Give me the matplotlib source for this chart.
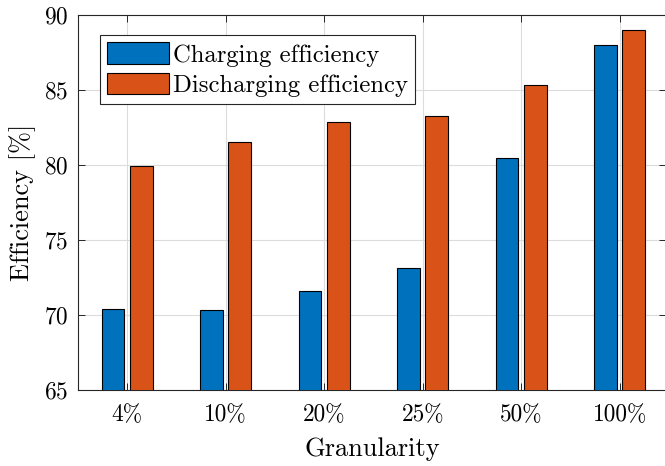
import matplotlib
matplotlib.use("Agg")
import matplotlib.pyplot as plt
import numpy as np

plt.rcParams["font.family"] = ["cmr10", "DejaVu Serif"]
plt.rcParams["axes.formatter.use_mathtext"] = True

granularity = ["4%", "10%", "20%", "25%", "50%", "100%"]
charging = [70.4, 70.35, 71.62, 73.11, 80.47, 88.0]
discharging = [79.91, 81.53, 82.89, 83.29, 85.35, 89.0]

blue = "#0072BD"
orange = "#D95319"
axis_color = "#262626"

fig = plt.figure(figsize=(6.65, 4.66), dpi=100)
ax = fig.add_axes([78 / 665, 76 / 466, 588 / 665, 375 / 466])

x = np.arange(1, len(granularity) + 1)
offset = 0.143
width = 0.23
ax.bar(x - offset, charging, width, color=blue, edgecolor="black",
       linewidth=0.8, label="Charging efficiency", zorder=3)
ax.bar(x + offset, discharging, width, color=orange, edgecolor="black",
       linewidth=0.8, label="Discharging efficiency", zorder=3)

ax.set_xlim(0.5, 6.47)
ax.set_ylim(65, 90)
ax.set_xticks(x)
ax.set_xticklabels(granularity)
ax.set_yticks(np.arange(65, 91, 5))

ax.grid(True, color="#dcdcdc", linewidth=0.8, zorder=0)
ax.set_axisbelow(True)
ax.tick_params(direction="in", top=True, right=True, length=5,
               width=0.7, color=axis_color, labelsize=16.8)
ax.tick_params(axis="x", pad=10)
ax.tick_params(axis="y", pad=7)
for spine in ax.spines.values():
    spine.set_color(axis_color)
    spine.set_linewidth(0.8)

ax.set_xlabel("Granularity", fontsize=19, labelpad=8)
ax.set_ylabel("Efficiency [%]", fontsize=19, labelpad=6)

leg = ax.legend(loc="upper left", bbox_to_anchor=(100 / 665, 1 - 35 / 466),
                bbox_transform=fig.transFigure, fontsize=17.8, fancybox=False,
                framealpha=1, edgecolor=axis_color, borderpad=0.3,
                handlelength=2.5, handleheight=0.95, handletextpad=0.15,
                labelspacing=0.25, borderaxespad=0)
leg.get_frame().set_linewidth(0.8)

fig.savefig("out.png", dpi=100)
